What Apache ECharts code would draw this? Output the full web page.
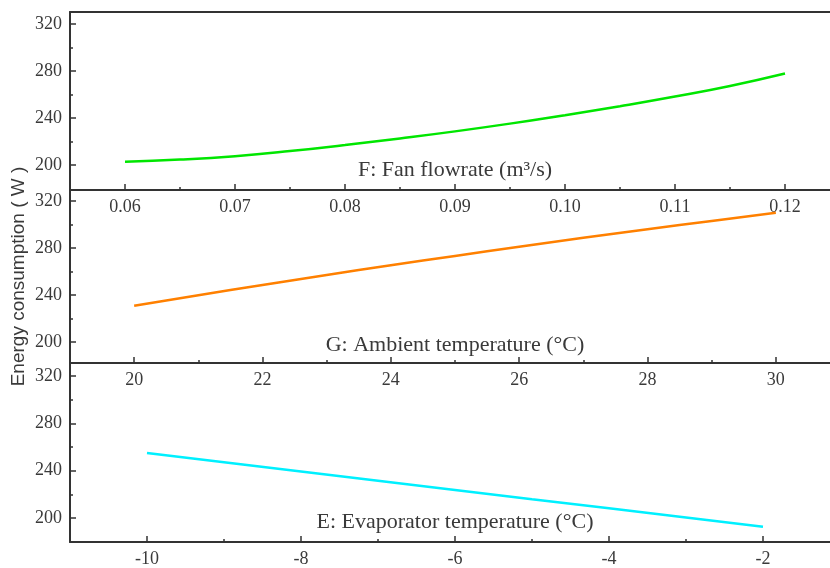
<!DOCTYPE html>
<html><head><meta charset="utf-8">
<script src="https://cdn.jsdelivr.net/npm/echarts@6/dist/echarts.min.js"></script>
<style>html,body{margin:0;padding:0;background:#fff}#c{width:830px;height:568px}</style>
</head><body><div id="c"></div>
<script>
// ---- data ----
const fanFlow = [0.060, 0.065, 0.070, 0.075, 0.080, 0.085, 0.090, 0.095, 0.100, 0.105, 0.110, 0.115, 0.120];
const fanEnergy = [202.8, 204.6, 207.5, 211.8, 217.0, 222.6, 228.6, 235.2, 242.4, 250.0, 258.2, 267.2, 277.8];
const ambientTemp = [20, 21, 22, 23, 24, 25, 26, 27, 28, 29, 30];
const ambientEnergy = [230.9, 239.8, 248.5, 257.0, 265.3, 273.3, 281.1, 288.7, 296.0, 303.1, 310.0];
const evapTemp = [-10, -9, -8, -7, -6, -5, -4, -3, -2];
const evapEnergy = [254.9, 247.1, 239.3, 231.5, 223.7, 215.9, 208.2, 200.4, 192.6];

const fanTicks = [0.06, 0.07, 0.08, 0.09, 0.10, 0.11, 0.12];
const fanTickLabels = ['0.06', '0.07', '0.08', '0.09', '0.10', '0.11', '0.12'];
const fanMinorTicks = [0.065, 0.075, 0.085, 0.095, 0.105, 0.115];
const ambientTicks = [20, 22, 24, 26, 28, 30];
const ambientTickLabels = ['20', '22', '24', '26', '28', '30'];
const ambientMinorTicks = [21, 23, 25, 27, 29];
const evapTicks = [-10, -8, -6, -4, -2];
const evapTickLabels = ['-10', '-8', '-6', '-4', '-2'];
const evapMinorTicks = [-9, -7, -5, -3];
const energyTicks = [200, 240, 280, 320];
const energyTickLabels = ['200', '240', '280', '320'];
const energyMinorTicks = [220, 260, 300];

const fanName = 'F: Fan flowrate (m\u00B3/s)';
const ambientName = 'G: Ambient temperature (\u00B0C)';
const evapName = 'E: Evaporator temperature (\u00B0C)';
const energyName = 'Energy consumption ( W )';

// ---- styling / layout ----
const SERIF = '"Liberation Serif", "Times New Roman", serif';
const AXC = '#333';
const LBL = '#3a3a3a';

function labelFor(ticks, labels) {
  return function (v) {
    let best = 0, bd = Infinity;
    ticks.forEach((t, i) => { const d = Math.abs(t - v); if (d < bd) { bd = d; best = i; } });
    return labels[best];
  };
}

const grids = [
  {left: 70, top: 12, width: 770, height: 178, outerBoundsMode: 'none', containLabel: false},
  {left: 70, top: 190, width: 770, height: 173, outerBoundsMode: 'none', containLabel: false},
  {left: 70, top: 363, width: 770, height: 179, outerBoundsMode: 'none', containLabel: false}
];
const xRanges = [[0.055, 0.125], [19, 31], [-11, -1]];
const yRanges = [[178.7, 330.2], [182.1, 329.4], [179.7, 331.0]];
const xMaj = [fanTicks, ambientTicks, evapTicks];
const xLab = [fanTickLabels, ambientTickLabels, evapTickLabels];
const xMin = [fanMinorTicks, ambientMinorTicks, evapMinorTicks];
const xNames = [fanName, ambientName, evapName];
const xNameGaps = [-20, -18, -20];

const xAxis = [], yAxis = [];
for (let g = 0; g < 3; g++) {
  xAxis.push({
    type: 'value', gridIndex: g, position: 'bottom',
    min: xRanges[g][0], max: xRanges[g][1],
    axisLine: {show: true, onZero: false, lineStyle: {color: AXC, width: 2}},
    axisTick: {show: true, inside: true, length: 6, customValues: xMaj[g], lineStyle: {color: AXC, width: 1.5}},
    axisLabel: {show: true, margin: 8, customValues: xMaj[g], formatter: labelFor(xMaj[g], xLab[g]),
      fontFamily: SERIF, fontSize: 18, color: LBL},
    splitLine: {show: false},
    name: xNames[g], nameLocation: 'middle', nameGap: xNameGaps[g], nameMoveOverlap: false,
    nameTextStyle: {fontFamily: SERIF, fontSize: 22, color: LBL, verticalAlign: 'middle'}
  });
  xAxis.push({
    type: 'value', gridIndex: g, position: 'bottom',
    min: xRanges[g][0], max: xRanges[g][1],
    axisLine: {show: false},
    axisTick: {show: true, inside: true, length: 3, customValues: xMin[g], lineStyle: {color: AXC, width: 1.5}},
    axisLabel: {show: false},
    splitLine: {show: false}
  });
  yAxis.push({
    type: 'value', gridIndex: g, position: 'left',
    min: yRanges[g][0], max: yRanges[g][1],
    axisLine: {show: true, onZero: false, lineStyle: {color: AXC, width: 2}},
    axisTick: {show: true, inside: true, length: 6, customValues: energyTicks, lineStyle: {color: AXC, width: 1.5}},
    axisLabel: {show: true, margin: 8, customValues: energyTicks, formatter: labelFor(energyTicks, energyTickLabels),
      fontFamily: SERIF, fontSize: 18, color: LBL},
    splitLine: {show: false},
    name: g === 1 ? energyName : '', nameLocation: 'middle', nameGap: 42, nameMoveOverlap: false,
    nameTextStyle: {fontFamily: '"Liberation Sans", Arial, sans-serif', fontSize: 19, color: LBL}
  });
  yAxis.push({
    type: 'value', gridIndex: g, position: 'left',
    min: yRanges[g][0], max: yRanges[g][1],
    axisLine: {show: false},
    axisTick: {show: true, inside: true, length: 3, customValues: energyMinorTicks, lineStyle: {color: AXC, width: 1.5}},
    axisLabel: {show: false},
    splitLine: {show: false}
  });
}
// top frame line of the first panel
xAxis.push({
  type: 'value', gridIndex: 0, position: 'top',
  min: xRanges[0][0], max: xRanges[0][1],
  axisLine: {show: true, onZero: false, lineStyle: {color: AXC, width: 2}},
  axisTick: {show: false}, axisLabel: {show: false}, splitLine: {show: false}
});

function pairs(xs, ys) { return xs.map((x, i) => [x, ys[i]]); }

const series = [
  {type: 'line', xAxisIndex: 0, yAxisIndex: 0, data: pairs(fanFlow, fanEnergy), smooth: true,
   showSymbol: false, lineStyle: {color: '#00e600', width: 2.5}, silent: true},
  {type: 'line', xAxisIndex: 2, yAxisIndex: 2, data: pairs(ambientTemp, ambientEnergy), smooth: true,
   showSymbol: false, lineStyle: {color: '#ff8000', width: 2.5}, silent: true},
  {type: 'line', xAxisIndex: 4, yAxisIndex: 4, data: pairs(evapTemp, evapEnergy), smooth: false,
   showSymbol: false, lineStyle: {color: '#00f0ff', width: 2.5}, silent: true}
];

const chart = echarts.init(document.getElementById('c'), null, {renderer: 'canvas'});
chart.setOption({
  animation: false,
  backgroundColor: '#ffffff',
  grid: grids,
  xAxis: xAxis,
  yAxis: yAxis,
  series: series
});
</script>
</body></html>
